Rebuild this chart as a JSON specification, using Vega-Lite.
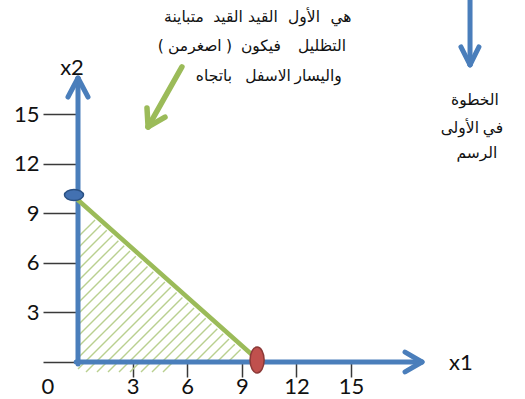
{
  "$schema": "https://vega.github.io/schema/vega-lite/v6.json",
  "width": 447,
  "height": 362,
  "autosize": {"type": "none"},
  "padding": {"left": 78, "top": 0, "right": 0, "bottom": 37},
  "background": "white",
  "config": {"view": {"stroke": null}},
  "datasets": {
    "hatch": [
      {"x": 0, "y": 7.562, "x2": 0.938, "y2": 8.595},
      {"x": 0, "y": 6.897, "x2": 1.258, "y2": 8.282},
      {"x": 0, "y": 6.231, "x2": 1.579, "y2": 7.969},
      {"x": 0, "y": 5.566, "x2": 1.898, "y2": 7.656},
      {"x": 0, "y": 4.900, "x2": 2.218, "y2": 7.342},
      {"x": 0, "y": 4.235, "x2": 2.538, "y2": 7.029},
      {"x": 0, "y": 3.569, "x2": 2.858, "y2": 6.716},
      {"x": 0, "y": 2.904, "x2": 3.178, "y2": 6.402},
      {"x": 0, "y": 2.238, "x2": 3.498, "y2": 6.090},
      {"x": 0, "y": 1.573, "x2": 3.818, "y2": 5.776},
      {"x": 0, "y": 0.907, "x2": 4.137, "y2": 5.463},
      {"x": 0, "y": 0.242, "x2": 4.457, "y2": 5.149},
      {"x": 0, "y": -0.423, "x2": 4.777, "y2": 4.836},
      {"x": 0.440, "y": -0.605, "x2": 5.097, "y2": 4.523},
      {"x": 1.044, "y": -0.605, "x2": 5.417, "y2": 4.210},
      {"x": 1.648, "y": -0.605, "x2": 5.737, "y2": 3.897},
      {"x": 2.253, "y": -0.605, "x2": 6.057, "y2": 3.583},
      {"x": 2.857, "y": -0.605, "x2": 6.376, "y2": 3.270},
      {"x": 3.462, "y": -0.605, "x2": 6.696, "y2": 2.956},
      {"x": 4.066, "y": -0.605, "x2": 7.016, "y2": 2.643},
      {"x": 4.670, "y": -0.605, "x2": 7.336, "y2": 2.330},
      {"x": 5.824, "y": 0, "x2": 7.656, "y2": 2.017},
      {"x": 6.429, "y": 0, "x2": 7.976, "y2": 1.704},
      {"x": 7.033, "y": 0, "x2": 8.296, "y2": 1.390},
      {"x": 7.637, "y": 0, "x2": 8.615, "y2": 1.077},
      {"x": 8.242, "y": 0, "x2": 8.935, "y2": 0.763}
    ],
    "blueLines": [
      {"part": "x2 axis", "x": 0, "y": -0.12, "x2": 0, "y2": 17.15},
      {"part": "x2 arrow left", "x": 0, "y": 17.18, "x2": -0.55, "y2": 16.03},
      {"part": "x2 arrow right", "x": 0, "y": 17.18, "x2": 0.55, "y2": 16.03},
      {"part": "x1 axis", "x": -0.1, "y": 0, "x2": 18.85, "y2": 0},
      {"part": "x1 arrow up", "x": 18.9, "y": 0, "x2": 17.97, "y2": 0.6},
      {"part": "x1 arrow down", "x": 18.9, "y": 0, "x2": 17.97, "y2": -0.6},
      {"part": "step arrow", "x": 21.54, "y": 23, "x2": 21.54, "y2": 18.0},
      {"part": "step arrow left", "x": 21.54, "y": 17.97, "x2": 21.04, "y2": 19.06},
      {"part": "step arrow right", "x": 21.54, "y": 17.97, "x2": 22.03, "y2": 19.06}
    ],
    "constraint": [
      {"x": 0, "y": 9.8, "x2": 9.5, "y2": 0.5}
    ],
    "greenArrow": [
      {"x": 5.71, "y": 17.85, "x2": 3.85, "y2": 14.22},
      {"x": 3.85, "y": 14.22, "x2": 3.79, "y2": 15.37},
      {"x": 3.85, "y": 14.22, "x2": 4.78, "y2": 14.82}
    ],
    "blueDot": [{"x": -0.22, "y": 10.1}],
    "redDot": [{"x": 9.84, "y": 0.12}],
    "latinText": [
      {"x": -1.65, "y": -1.51, "label": "0"},
      {"x": -0.33, "y": 17.79, "label": "x2"},
      {"x": 21.04, "y": -0.06, "label": "x1"}
    ],
    "noteText": [
      {"x": 5.82, "y": 20.87, "label": "متباينة"},
      {"x": 8.24, "y": 20.87, "label": "القيد"},
      {"x": 10.16, "y": 20.87, "label": "القيد"},
      {"x": 12.42, "y": 20.87, "label": "الأول"},
      {"x": 14.45, "y": 20.87, "label": "هي"},
      {"x": 4.55, "y": 19.12, "label": "("},
      {"x": 6.42, "y": 19.12, "label": "اصغرمن"},
      {"x": 8.3, "y": 19.12, "label": ")"},
      {"x": 10.05, "y": 19.12, "label": "فيكون"},
      {"x": 13.41, "y": 19.12, "label": "التظليل"},
      {"x": 7.47, "y": 17.30, "label": "باتجاه"},
      {"x": 10.44, "y": 17.30, "label": "الاسفل"},
      {"x": 13.19, "y": 17.30, "label": "واليسار"},
      {"x": 21.81, "y": 15.85, "label": "الخطوة"},
      {"x": 20.98, "y": 14.16, "label": "الأولى"},
      {"x": 22.8, "y": 14.16, "label": "في"},
      {"x": 21.92, "y": 12.64, "label": "الرسم"}
    ]
  },
  "layer": [
    {
      "data": {"name": "hatch"},
      "mark": {"type": "rule", "color": "#b9d08f", "strokeWidth": 1.4},
      "encoding": {
        "x": {
          "field": "x", "type": "quantitative", "title": null,
          "scale": {"domain": [0, 24.56], "nice": false, "zero": false},
          "axis": {
            "values": [3, 6, 9, 12, 15], "domain": false, "grid": false,
            "tickSize": 15, "tickColor": "#3a3a3a", "tickWidth": 1.5,
            "labelFont": "Lato", "labelFontSize": 22, "labelColor": "#111111",
            "labelPadding": -1, "labelFlush": false, "labelOverlap": false, "title": null
          }
        },
        "y": {
          "field": "y", "type": "quantitative", "title": null,
          "scale": {"domain": [0, 21.9], "nice": false, "zero": false},
          "axis": {
            "values": [0, 3, 6, 9, 12, 15], "domain": false, "grid": false,
            "tickSize": 35, "tickColor": "#3a3a3a", "tickWidth": 1.5,
            "labelFont": "Lato", "labelFontSize": 22, "labelColor": "#111111",
            "labelPadding": 4, "labelFlush": false, "labelOverlap": false,
            "labelExpr": "datum.value == 0 ? '' : datum.label", "title": null
          }
        },
        "x2": {"field": "x2"},
        "y2": {"field": "y2"}
      }
    },
    {
      "data": {"name": "blueLines"},
      "mark": {"type": "rule", "color": "#4a7ebb", "strokeWidth": 5, "strokeCap": "round"},
      "encoding": {
        "x": {"field": "x", "type": "quantitative", "title": null},
        "y": {"field": "y", "type": "quantitative", "title": null},
        "x2": {"field": "x2"},
        "y2": {"field": "y2"}
      }
    },
    {
      "data": {"name": "constraint"},
      "mark": {"type": "rule", "color": "#9bbb59", "strokeWidth": 4.5, "strokeCap": "round"},
      "encoding": {
        "x": {"field": "x", "type": "quantitative", "title": null},
        "y": {"field": "y", "type": "quantitative", "title": null},
        "x2": {"field": "x2"},
        "y2": {"field": "y2"}
      }
    },
    {
      "data": {"name": "greenArrow"},
      "mark": {"type": "rule", "color": "#9bbb59", "strokeWidth": 5.5, "strokeCap": "round"},
      "encoding": {
        "x": {"field": "x", "type": "quantitative", "title": null},
        "y": {"field": "y", "type": "quantitative", "title": null},
        "x2": {"field": "x2"},
        "y2": {"field": "y2"}
      }
    },
    {
      "data": {"name": "blueDot"},
      "mark": {
        "type": "point", "filled": true, "opacity": 1,
        "shape": "M -1 0 A 1 0.58 0 1 0 1 0 A 1 0.58 0 1 0 -1 0 Z",
        "size": 361, "fill": "#4371b1", "stroke": "#2b5183", "strokeWidth": 1.5
      },
      "encoding": {
        "x": {"field": "x", "type": "quantitative", "title": null},
        "y": {"field": "y", "type": "quantitative", "title": null}
      }
    },
    {
      "data": {"name": "redDot"},
      "mark": {
        "type": "point", "filled": true, "opacity": 1,
        "shape": "M 0 -1 A 0.54 1 0 1 0 0 1 A 0.54 1 0 1 0 0 -1 Z",
        "size": 676, "fill": "#c0504d", "stroke": "#8c3a38", "strokeWidth": 1.5
      },
      "encoding": {
        "x": {"field": "x", "type": "quantitative", "title": null},
        "y": {"field": "y", "type": "quantitative", "title": null}
      }
    },
    {
      "data": {"name": "latinText"},
      "mark": {"type": "text", "font": "Lato", "fontSize": 22, "color": "#111111", "align": "center", "baseline": "middle"},
      "encoding": {
        "x": {"field": "x", "type": "quantitative", "title": null},
        "y": {"field": "y", "type": "quantitative", "title": null},
        "text": {"field": "label"}
      }
    },
    {
      "data": {"name": "noteText"},
      "mark": {"type": "text", "font": "DejaVu Sans", "fontSize": 15.5, "color": "#111111", "align": "center", "baseline": "middle"},
      "encoding": {
        "x": {"field": "x", "type": "quantitative", "title": null},
        "y": {"field": "y", "type": "quantitative", "title": null},
        "text": {"field": "label"}
      }
    }
  ]
}
